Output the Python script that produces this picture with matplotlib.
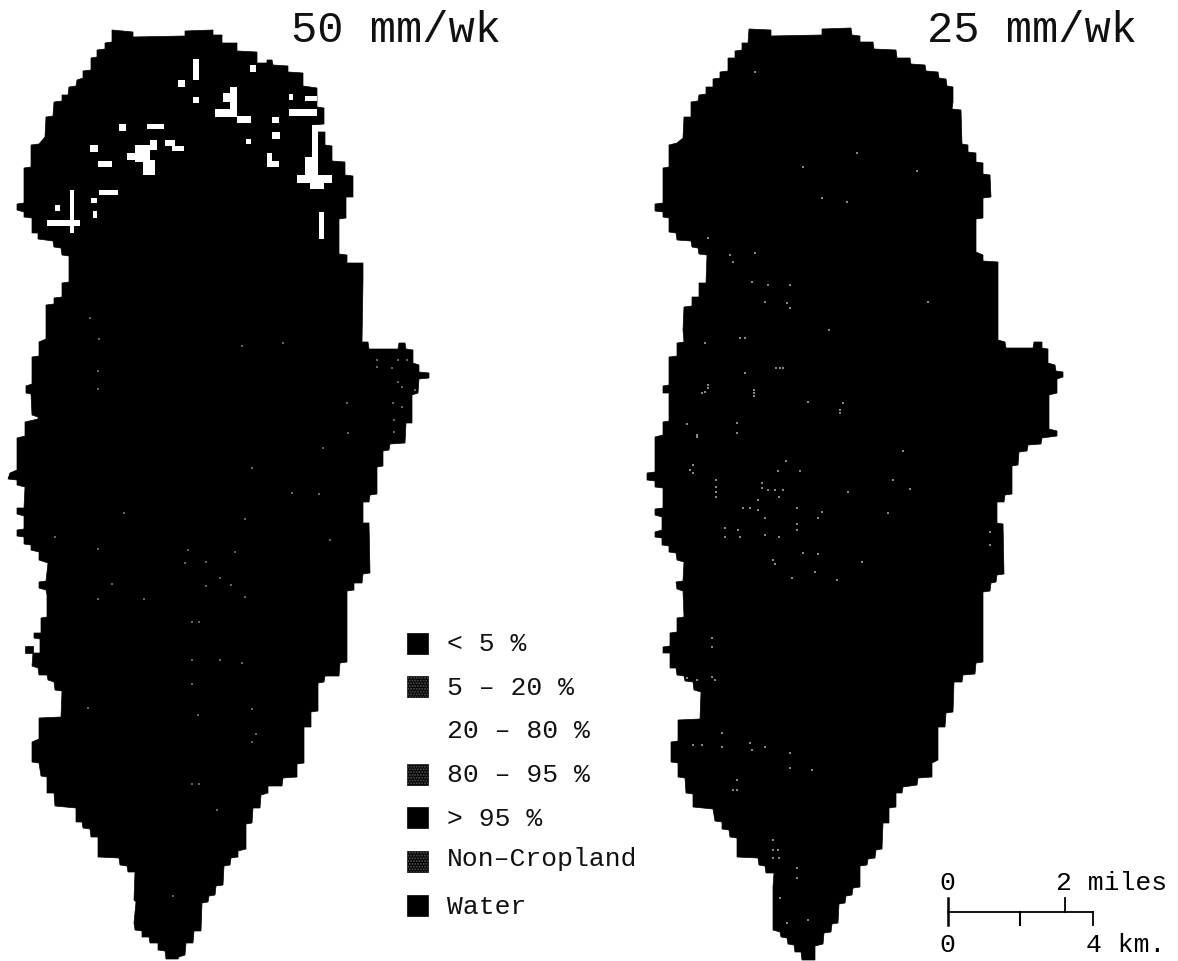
import matplotlib
matplotlib.use("Agg")
import matplotlib.pyplot as plt
from matplotlib.patches import Polygon, Rectangle

# everything, in image pixels
left_outline = [
    (112,30),(133,32),(133,37),(185,36),(185,31),(213,30),(213,35),(222,35),(222,43),(237,43),(237,51),(257,52),
    (257,63),(267,63),(267,60),(272,60),(273,65),(288,66),(288,72),(303,73),(303,86),(317,88),(317,107),(324,108),
    (324,124),(313,125),(313,132),(325,132),(325,145),(332,146),(332,161),(345,162),(345,175),(353,176),(353,197),
    (346,197),(346,218),(339,219),(339,254),(347,255),(347,263),(363,263),(363,280),(362,342),(368,342),(369,349),
    (398,349),(399,343),(405,343),(406,349),(413,350),(413,363),(419,365),(419,372),(429,373),(429,378),(419,379),
    (418,393),(412,395),(412,423),(406,423),(405,443),(390,444),(389,450),(383,451),(383,466),(377,467),(377,494),
    (370,495),(369,502),(363,502),(363,523),(369,523),(370,573),(363,574),(362,583),(354,583),(354,590),(347,591),
    (347,662),(340,663),(339,676),(325,676),(324,682),(318,683),(318,711),(311,712),(311,727),(304,727),(304,763),
    (297,764),(297,777),(283,778),(282,786),(268,786),(268,793),(261,795),(260,808),(253,808),(252,823),(246,824),
    (246,849),(238,851),(238,857),(231,858),(230,865),(224,866),(223,885),(216,886),(215,895),(209,896),(208,902),
    (202,903),(201,931),(194,931),(193,943),(186,943),(185,955),(179,957),(178,959),(166,959),(165,951),(158,950),
    (158,943),(150,943),(149,937),(142,937),(142,931),(135,930),(134,923),(136,902),(134,900),(135,872),(128,872),
    (127,866),(120,865),(119,858),(98,857),(98,837),(91,837),(90,829),(83,828),(82,822),(76,822),(76,808),(55,806),
    (54,793),(47,793),(47,777),(41,776),(39,763),(32,762),(32,742),(39,739),(39,718),(61,717),(62,691),(55,690),
    (54,682),(48,680),(47,675),(39,675),(38,668),(32,666),(33,653),(40,653),(40,639),(34,638),(34,633),(41,633),
    (41,618),(47,617),(47,595),(46,590),(39,588),(39,582),(46,581),(48,563),(39,560),(39,552),(31,550),(31,545),
    (24,544),(24,537),(17,536),(17,530),(24,529),(24,516),(17,514),(17,508),(24,508),(25,487),(17,485),(17,480),
    (8,479),(10,473),(17,470),(17,438),(25,436),(25,422),(38,419),(38,417),(32,415),(31,394),(26,393),(26,386),
    (32,384),(32,357),(39,356),(39,342),(46,339),(46,305),(54,304),(54,298),(62,297),(62,283),(69,282),(69,256),
    (62,255),(61,248),(54,247),(53,241),(38,239),(38,233),(32,233),(32,218),(24,217),(24,212),(17,210),(17,204),
    (24,203),(24,168),(31,167),(31,145),(39,144),(45,137),(46,117),(53,116),(54,102),(62,101),(62,95),(68,95),
    (69,87),(76,86),(77,80),(83,78),(83,71),(91,70),(91,58),(97,57),(97,50),(105,49),(105,43),(112,42),
]
left_islet = [(25,646),(33,646),(33,653),(25,653)]

right_outline = [
    (749,29),(771,30),(771,36),(822,35),(822,29),(851,28),(852,35),(860,36),(860,42),(873,42),(874,49),(896,50),
    (897,58),(910,58),(911,64),(925,65),(926,71),(938,72),(939,78),(946,79),(947,86),(953,87),(953,102),(952,109),
    (961,110),(962,144),(968,145),(968,152),(976,153),(976,162),(983,163),(983,174),(990,175),(991,197),(983,198),
    (983,218),(976,219),(976,252),(983,255),(983,261),(998,262),(998,340),(1005,342),(1006,348),(1033,348),
    (1034,342),(1042,342),(1042,348),(1048,349),(1048,363),(1055,365),(1056,371),(1063,372),(1063,377),(1057,379),
    (1057,393),(1049,395),(1049,429),(1057,431),(1057,436),(1042,438),(1041,444),(1028,445),(1027,451),(1019,452),
    (1018,465),(1012,466),(1012,494),(1005,495),(1004,502),(997,502),(997,523),(1003,524),(1004,574),(997,575),
    (996,582),(991,583),(990,591),(983,592),(983,662),(976,663),(975,674),(963,675),(962,682),(954,682),(953,712),
    (946,713),(945,727),(938,727),(938,760),(932,763),(932,777),(918,778),(917,785),(903,787),(902,793),(896,793),
    (896,807),(889,808),(889,823),(883,823),(882,849),(876,850),(875,858),(868,859),(867,865),(860,866),(860,887),
    (853,888),(852,895),(846,896),(845,903),(839,904),(838,923),(832,924),(831,932),(824,933),(823,944),(815,946),
    (815,960),(802,960),(801,952),(795,952),(794,945),(788,944),(787,938),(781,937),(780,932),(773,930),(773,887),
    (774,873),(766,873),(765,866),(759,865),(758,858),(737,857),(737,838),(730,837),(729,830),(722,829),(722,822),
    (715,821),(713,809),(693,807),(693,794),(686,793),(685,778),(678,777),(678,763),(671,762),(671,742),(678,741),
    (678,720),(700,719),(701,692),(694,690),(693,682),(685,681),(684,676),(677,675),(676,668),(670,668),(670,653),
    (663,653),(663,647),(670,646),(670,633),(677,632),(677,618),(684,617),(683,591),(677,589),(676,582),(683,581),
    (684,562),(677,560),(676,553),(669,552),(669,546),(662,545),(662,538),(655,537),(655,532),(662,530),(662,517),
    (655,515),(655,509),(663,508),(663,488),(655,487),(655,481),(647,480),(647,473),(655,472),(655,437),(663,435),
    (663,422),(669,421),(669,393),(663,393),(663,386),(669,385),(669,357),(677,356),(677,343),(684,342),(683,330),
    (684,307),(692,306),(692,297),(699,297),(699,283),(706,283),(707,255),(699,254),(698,248),(692,247),(691,241),
    (677,240),(676,233),(669,232),(669,218),(663,217),(663,212),(655,211),(655,204),(663,203),(663,168),(669,167),
    (669,145),(677,143),(683,138),(684,117),(691,117),(691,102),(698,101),(699,95),(706,94),(706,87),(713,87),
    (713,79),(720,78),(720,72),(728,71),(728,58),(735,58),(735,51),(742,50),(742,43),(748,43),
]

# white cells in the 50 mm/wk map: x0, y0, x1, y1
white_cells = [
    (193,59,199,80),(178,80,185,87),(193,97,199,103),(250,65,256,72),(230,87,237,116),(215,109,237,117),
    (223,93,230,102),(237,116,251,123),(272,117,279,123),(272,132,280,139),(246,139,251,144),(267,153,272,167),
    (267,161,279,167),(289,94,293,100),(305,96,317,101),(289,109,317,116),(312,125,318,160),(305,157,318,177),
    (297,175,332,183),(310,182,324,189),(319,212,324,239),(119,124,126,131),(147,124,164,129),(90,145,98,152),
    (98,161,112,167),(99,190,118,195),(91,198,97,203),(93,211,97,218),(70,190,74,233),(47,220,80,226),
    (55,205,60,211),(135,145,150,162),(127,153,150,160),(143,160,155,175),(150,140,157,150),(165,140,175,146),
    (172,146,184,151),
]

left_specks = [
    (90,318),(99,339),(98,371),(98,389),(242,346),(283,343),(347,403),(348,433),(323,448),(252,468),(292,493),
    (319,494),(124,513),(245,519),(55,537),(98,549),(330,540),(188,550),(235,552),(185,563),(206,562),(220,578),
    (231,585),(206,586),(112,584),(98,599),(144,599),(245,597),(377,360),(377,367),(392,368),(398,360),(407,360),
    (398,382),(402,387),(415,390),(393,403),(402,407),(394,420),(394,432),(192,622),(199,622),(220,660),(192,660),
    (242,663),(192,684),(88,708),(198,715),(252,709),(256,734),(252,742),(192,784),(199,784),(217,810),(173,896),
]
right_specks = [
    (740,338),(745,338),(705,343),(829,330),(776,368),(780,368),(783,368),(745,373),(708,385),(708,388),(705,392),
    (702,393),(754,390),(754,393),(754,396),(808,402),(843,403),(840,410),(840,413),(687,424),(737,423),(737,433),
    (697,435),(697,437),(903,451),(786,461),(778,471),(800,471),(693,465),(690,470),(693,473),(716,480),(716,487),
    (716,492),(716,497),(762,483),(762,488),(768,490),(775,490),(783,490),(779,497),(758,500),(758,510),(743,508),
    (750,508),(765,518),(797,508),(822,512),(818,518),(797,524),(797,530),(725,528),(725,537),(738,530),(740,537),
    (765,535),(779,537),(773,560),(775,564),(803,553),(818,554),(862,562),(815,572),(792,578),(837,580),(990,532),
    (990,545),(893,480),(888,513),(848,492),(910,489),(712,638),(712,647),(712,677),(715,680),(687,678),(697,680),
    (693,745),(702,745),(722,733),(722,747),(750,743),(752,750),(765,747),(790,753),(790,768),(812,770),(737,780),
    (737,790),(733,790),(773,840),(773,850),(778,850),(773,858),(779,858),(797,868),(797,878),(780,898),(808,920),
    (787,923),(708,238),(730,255),(733,262),(755,253),(752,282),(768,285),(790,285),(765,302),(787,303),(790,308),
    (928,302),(755,72),(857,153),(803,167),(917,171),(822,198),(847,202),
]

titles = ["50 mm/wk", "25 mm/wk"]
legend_labels = ["< 5 %", "5 \u2013 20 %", "20 \u2013 80 %", "80 \u2013 95 %", "> 95 %", "Non\u2013Cropland", "Water"]
legend_text_y = [644, 688, 731, 775, 819, 859, 907]
legend_swatch_y = [633, 676, None, 764, 807, 851, 895]
legend_speckled = [False, True, False, True, False, True, False]

# plotter lettering is close to fixed pitch
plt.rcParams["font.family"] = ["Liberation Mono", "DejaVu Sans"]

fig = plt.figure(figsize=(11.78, 9.61), dpi=100)
ax = fig.add_axes([0, 0, 1, 1])
ax.set_xlim(0, 1178)
ax.set_ylim(961, 0)
ax.axis("off")

# MAPS
for outline in [left_outline, left_islet, right_outline]:
    ax.add_patch(Polygon(outline, closed=True, fc="black", ec="black", lw=0.5))
for x0, y0, x1, y1 in white_cells:
    ax.add_patch(Rectangle((x0, y0), x1 - x0, y1 - y0, fc="white", ec="none"))
ax.scatter(*zip(*left_specks), s=1.2, marker="s", color="#666666", linewidths=0)
ax.scatter(*zip(*right_specks), s=1.6, marker="s", color="#888888", linewidths=0)

# TITLES
ax.text(396, 31, titles[0], fontsize=31.5, ha="center", va="center", color="#111111")
ax.text(1032, 31, titles[1], fontsize=31.5, ha="center", va="center", color="#111111")

# LEGEND
for label, ty, sy, speck in zip(legend_labels, legend_text_y, legend_swatch_y, legend_speckled):
    ax.text(447, ty, label, fontsize=19, ha="left", va="center", color="#111111")
    if sy is None:
        continue
    ax.add_patch(Rectangle((407, sy), 21, 21, fc="black", ec="black", lw=0.5))
    if speck:
        ax.add_patch(Rectangle((407, sy), 21, 21, fc="none", ec="#555555", lw=0, hatch="......"))

# SCALE BAR
ax.plot([948, 1093], [912, 912], color="black", lw=1.3)
ax.plot([948, 948], [898, 925], color="black", lw=1.8)
ax.plot([1020, 1020], [912, 925], color="black", lw=1.5)
ax.plot([1065, 1065], [898, 912], color="black", lw=1.3)
ax.plot([1093, 1093], [912, 925], color="black", lw=1.3)
ax.text(947, 883, "0", fontsize=19, ha="center", va="center")
ax.text(1056, 883, "2 miles", fontsize=19, ha="left", va="center")
ax.text(947, 945, "0", fontsize=19, ha="center", va="center")
ax.text(1086, 945, "4 km.", fontsize=19, ha="left", va="center")

fig.savefig("out.png", dpi=100)
